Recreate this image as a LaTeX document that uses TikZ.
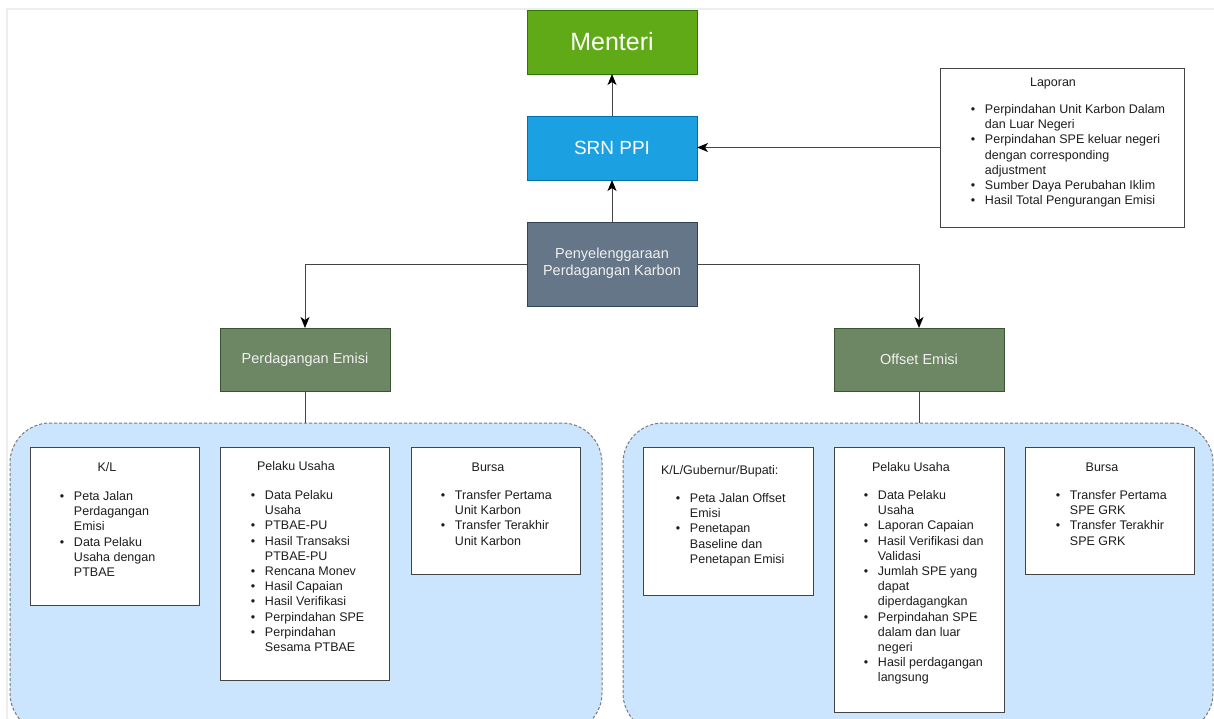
\documentclass[tikz,border=0pt]{standalone}
\usepackage{fontspec}
\setmainfont{Liberation Sans}
\usetikzlibrary{arrows.meta}
\definecolor{mgreen}{HTML}{60A917}
\definecolor{mgreenb}{HTML}{2D7600}
\definecolor{mblue}{HTML}{1BA1E2}
\definecolor{mblueb}{HTML}{006EAF}
\definecolor{mslate}{HTML}{647687}
\definecolor{mslateb}{HTML}{314354}
\definecolor{mol}{HTML}{6D8764}
\definecolor{molb}{HTML}{3A5431}
\definecolor{contfill}{HTML}{CCE5FF}
\definecolor{contline}{HTML}{7A7A7A}
\definecolor{txt}{HTML}{1E1E1E}
\definecolor{lin}{HTML}{444444}
\definecolor{framec}{HTML}{EEEEEE}
\newcommand\bu{\textbullet}
\tikzset{myarrow/.tip={Stealth[length=11pt,width=9pt,inset=3pt,color=black]}}
\begin{document}
\begin{tikzpicture}[x=1pt,y=-1pt,
  every node/.style={inner sep=0pt, outer sep=0pt},
  cbox/.style={draw, line width=1pt, anchor=north west, text=white, align=center},
  wbox/.style={draw=lin, line width=1pt, fill=white, anchor=north west},
  cont/.style={draw=contline, fill=contfill, line width=1pt, dash pattern=on 3pt off 2pt, rounded corners=40pt, anchor=north west},
  ttl/.style={anchor=base, text=txt, font=\fontsize{12.5}{15.2}\selectfont},
  ttlw/.style={anchor=base west, text=txt, font=\fontsize{12.5}{15.2}\selectfont},
  lst/.style={anchor=base west, text=txt, font=\fontsize{12.5}{15.2}\selectfont},
  arr/.style={draw=lin, line width=1pt, -myarrow},
  conn/.style={draw=lin, line width=1pt}
]
\useasboundingbox (0,0) rectangle (1214,718);
\clip (0,0) rectangle (1214,718);
\fill[white] (0,0) rectangle (1214,718);
\draw[framec, line width=2pt] (7,720) -- (7,9) -- (1216,9);

% containers
\node[cont, minimum width=592pt, minimum height=310pt] (lcont) at (10,423) {};
\node[cont, minimum width=590pt, minimum height=310pt] (rcont) at (623,423) {};

% top nodes
\node[cbox, draw=mgreenb, fill=mgreen, minimum width=170pt, minimum height=64pt, font=\fontsize{25}{30}\selectfont] (menteri) at (527,10) {Menteri};
\node[cbox, draw=mblueb, fill=mblue, minimum width=170pt, minimum height=64pt, font=\fontsize{19}{23}\selectfont] (srn) at (527,116) {SRN PPI};
\node[cbox, draw=mslateb, fill=mslate, minimum width=170pt, minimum height=84pt, font=\fontsize{14.5}{17}\selectfont, text=white!94!black] (peny) at (527,222) {\raisebox{-2pt}{\begin{tabular}{@{}c@{}}Penyelenggaraan\\Perdagangan Karbon\end{tabular}}};
\node[cbox, draw=molb, fill=mol, minimum width=170pt, minimum height=63pt, font=\fontsize{14.5}{17}\selectfont, text=white!94!black] (pe) at (220,328) {Perdagangan Emisi};
\node[cbox, draw=molb, fill=mol, minimum width=170pt, minimum height=63pt, font=\fontsize{14.5}{17}\selectfont, text=white!94!black] (oe) at (834,328) {Offset Emisi};

% Laporan
\node[wbox, minimum width=244pt, minimum height=159pt] (lap) at (940,68) {};
\node[ttl] (lapt) at (1053,86.5) {Laporan};
\node[lst] (lapl) at (970.8,113.5) {\begin{tabular}[t]{@{}l@{\hspace{9.8pt}}l@{}}
\bu & Perpindahan Unit Karbon Dalam\\
 & dan Luar Negeri\\
\bu & Perpindahan SPE keluar negeri\\
 & dengan corresponding\\
 & adjustment\\
\bu & Sumber Daya Perubahan Iklim\\
\bu & Hasil Total Pengurangan Emisi
\end{tabular}};

% left boxes
\node[wbox, minimum width=169pt, minimum height=158pt] (kl) at (30,447) {};
\node[ttl] (klt) at (107,471.5) {K/L};
\node[lst] (kll) at (59.8,500.5) {\begin{tabular}[t]{@{}l@{\hspace{9.8pt}}l@{}}
\bu & Peta Jalan\\
 & Perdagangan\\
 & Emisi\\
\bu & Data Pelaku\\
 & Usaha dengan\\
 & PTBAE
\end{tabular}};

\node[wbox, minimum width=169pt, minimum height=233pt] (pu1) at (220,447) {};
\node[ttlw] (pu1t) at (257,470.5) {Pelaku Usaha};
\node[lst] (pu1l) at (250.8,499.5) {\begin{tabular}[t]{@{}l@{\hspace{9.8pt}}l@{}}
\bu & Data Pelaku\\
 & Usaha\\
\bu & PTBAE-PU\\
\bu & Hasil Transaksi\\
 & PTBAE-PU\\
\bu & Rencana Monev\\
\bu & Hasil Capaian\\
\bu & Hasil Verifikasi\\
\bu & Perpindahan SPE\\
\bu & Perpindahan\\
 & Sesama PTBAE
\end{tabular}};

\node[wbox, minimum width=169pt, minimum height=127pt] (bu1) at (411,447) {};
\node[ttl] (bu1t) at (488,471.5) {Bursa};
\node[lst] (bu1l) at (440.8,499.5) {\begin{tabular}[t]{@{}l@{\hspace{9.8pt}}l@{}}
\bu & Transfer Pertama\\
 & Unit Karbon\\
\bu & Transfer Terakhir\\
 & Unit Karbon
\end{tabular}};

% right boxes
\node[wbox, minimum width=170pt, minimum height=148pt] (kg) at (643,447) {};
\node[ttlw] (kgt) at (661,474.5) {K/L/Gubernur/Bupati:};
\node[lst] (kgl) at (675.8,502.5) {\begin{tabular}[t]{@{}l@{\hspace{9.8pt}}l@{}}
\bu & Peta Jalan Offset\\
 & Emisi\\
\bu & Penetapan\\
 & Baseline dan\\
 & Penetapan Emisi
\end{tabular}};

\node[wbox, minimum width=170pt, minimum height=265pt] (pu2) at (834,447) {};
\node[ttlw] (pu2t) at (872,471.5) {Pelaku Usaha};
\node[lst] (pu2l) at (863.8,499.5) {\begin{tabular}[t]{@{}l@{\hspace{9.8pt}}l@{}}
\bu & Data Pelaku\\
 & Usaha\\
\bu & Laporan Capaian\\
\bu & Hasil Verifikasi dan\\
 & Validasi\\
\bu & Jumlah SPE yang\\
 & dapat\\
 & diperdagangkan\\
\bu & Perpindahan SPE\\
 & dalam dan luar\\
 & negeri\\
\bu & Hasil perdagangan\\
 & langsung
\end{tabular}};

\node[wbox, minimum width=169pt, minimum height=127pt] (bu2) at (1025,447) {};
\node[ttl] (bu2t) at (1102,471.5) {Bursa};
\node[lst] (bu2l) at (1055.8,499.5) {\begin{tabular}[t]{@{}l@{\hspace{9.8pt}}l@{}}
\bu & Transfer Pertama\\
 & SPE GRK\\
\bu & Transfer Terakhir\\
 & SPE GRK
\end{tabular}};

% connectors
\draw[arr] (srn.north) -- (menteri.south);
\draw[arr] (peny.north) -- (srn.south);
\draw[arr] (lap.west) -- (lap.west -| srn.east);
\draw[arr] (peny.west) -| (pe.north);
\draw[arr] (peny.east) -| (oe.north);
\draw[conn] (pe.south) -- (pe.south |- lcont.north);
\draw[conn] (oe.south) -- (oe.south |- rcont.north);
\end{tikzpicture}
\end{document}
